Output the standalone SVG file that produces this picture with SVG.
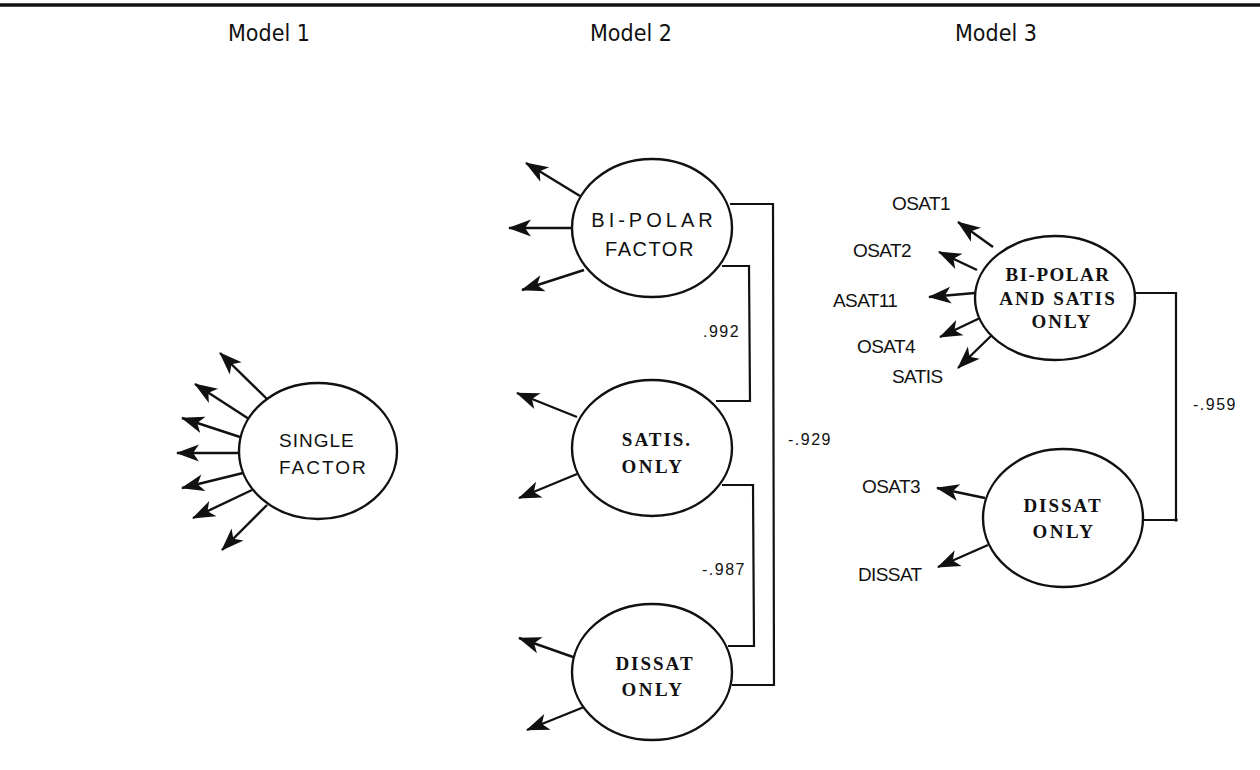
<svg xmlns="http://www.w3.org/2000/svg" width="1260" height="770" viewBox="0 0 1260 770">
<style>
.e{fill:#fff;stroke:#111;stroke-width:2.4}
.a{stroke:#111;stroke-width:2.4;fill:none;marker-end:url(#ah)}
.c{stroke:#111;stroke-width:2.2;fill:none}
.ts{font-family:"Liberation Sans",Arial,sans-serif;font-size:19px;fill:#111}
.tr{font-family:"Liberation Serif","Times New Roman",serif;font-size:19px;font-weight:bold;fill:#111}
.tl{font-family:"Liberation Sans",Arial,sans-serif;font-size:19px;fill:#111;letter-spacing:-0.6px}
.tn{font-family:"Liberation Sans",Arial,sans-serif;font-size:16px;fill:#111;letter-spacing:1.5px}
.tt{font-family:"DejaVu Sans Condensed","DejaVu Sans",sans-serif;font-size:23px;fill:#111}
</style>
<defs>
<marker id="ah" markerUnits="userSpaceOnUse" markerWidth="28" markerHeight="22" viewBox="-25 -11 27 22" refX="0" refY="0" orient="auto">
<path d="M1,0 L-22,-8.5 L-16,0 L-22,8.5 Z" fill="#111"/>
</marker>
</defs>
<rect width="1260" height="770" fill="#fff"/>
<line x1="0" y1="5" x2="1260" y2="5" stroke="#111" stroke-width="3.5"/>
<g id="titles">
<text class="tt" x="228" y="41">Model  1</text>
<text class="tt" x="590" y="41">Model  2</text>
<text class="tt" x="955" y="41">Model  3</text>
</g>
<g id="connectors">
<line class="a" x1="267" y1="399" x2="220" y2="353"/>
<line class="a" x1="249" y1="419" x2="195" y2="384"/>
<line class="a" x1="240" y1="437" x2="182" y2="418"/>
<line class="a" x1="239" y1="453" x2="177" y2="453"/>
<line class="a" x1="243" y1="473" x2="182" y2="488"/>
<line class="a" x1="252" y1="490" x2="193" y2="518"/>
<line class="a" x1="267" y1="505" x2="222" y2="550"/>
<line class="a" x1="580" y1="196" x2="526" y2="163"/>
<line class="a" x1="572" y1="228" x2="509" y2="228"/>
<line class="a" x1="584" y1="270" x2="522" y2="290"/>
<line class="a" x1="577" y1="417" x2="517" y2="393"/>
<line class="a" x1="577" y1="474" x2="519" y2="498"/>
<line class="a" x1="573" y1="657" x2="519" y2="638"/>
<line class="a" x1="584" y1="707" x2="527" y2="730"/>
<polyline class="c" points="730,204 773,204 774,685 732,685"/>
<polyline class="c" points="722,266 749,266 750,401 716,401"/>
<polyline class="c" points="722,485 753,485 754,646 728,646"/>
<line class="a" x1="993" y1="247" x2="958" y2="222"/>
<line class="a" x1="977" y1="270" x2="939" y2="252"/>
<line class="a" x1="975" y1="293" x2="929" y2="297"/>
<line class="a" x1="980" y1="318" x2="940" y2="337"/>
<line class="a" x1="992" y1="335" x2="958" y2="368"/>
<line class="a" x1="985" y1="498" x2="937" y2="488"/>
<line class="a" x1="988" y1="545" x2="938" y2="567"/>
<polyline class="c" points="1135,293 1176,293 1176,520 1143,520"/>
<circle cx="1176" cy="520" r="1.8" fill="#111"/>
</g>
<g id="labels">
<text class="tn" x="703" y="337">.992</text>
<text class="tn" x="702" y="575">-.987</text>
<text class="tn" x="788" y="445">-.929</text>
<text class="tn" x="1193" y="410">-.959</text>
<text class="tl" x="892" y="210">OSAT1</text>
<text class="tl" x="853" y="257">OSAT2</text>
<text class="tl" x="833" y="307">ASAT11</text>
<text class="tl" x="857" y="353">OSAT4</text>
<text class="tl" x="892" y="383">SATIS</text>
<text class="tl" x="862" y="493">OSAT3</text>
<text class="tl" x="858" y="581">DISSAT</text>
</g>
<g id="n-single">
<ellipse class="e" cx="318" cy="451" rx="79" ry="68"/>
<text class="ts" x="279" y="447" style="letter-spacing:1px">SINGLE</text>
<text class="ts" x="279" y="474" style="letter-spacing:2px">FACTOR</text>
</g>
<g id="n-bipolar">
<ellipse class="e" cx="652" cy="228" rx="80" ry="69"/>
<text class="ts" x="654" y="227" text-anchor="middle" style="letter-spacing:4px;font-size:20px">BI-POLAR</text>
<text class="ts" x="650" y="256" text-anchor="middle" style="letter-spacing:1.5px;font-size:20px">FACTOR</text>
</g>
<g id="n-satis">
<ellipse class="e" cx="652" cy="448" rx="80" ry="68"/>
<text class="tr" x="657" y="446" text-anchor="middle" style="letter-spacing:2px">SATIS.</text>
<text class="tr" x="653" y="473" text-anchor="middle" style="letter-spacing:2.5px">ONLY</text>
</g>
<g id="n-dissat">
<ellipse class="e" cx="652" cy="672" rx="80" ry="68"/>
<text class="tr" x="655" y="670" text-anchor="middle" style="letter-spacing:2px">DISSAT</text>
<text class="tr" x="653" y="696" text-anchor="middle" style="letter-spacing:2.5px">ONLY</text>
</g>
<g id="n-bipolar-satis">
<ellipse class="e" cx="1055" cy="298" rx="80" ry="62"/>
<text class="tr" x="1058" y="281" text-anchor="middle" style="letter-spacing:1.5px">BI-POLAR</text>
<text class="tr" x="1058" y="305" text-anchor="middle" style="letter-spacing:2px">AND SATIS</text>
<text class="tr" x="1062" y="328" text-anchor="middle" style="letter-spacing:2px">ONLY</text>
</g>
<g id="n-dissat3">
<ellipse class="e" cx="1063" cy="518" rx="80" ry="69"/>
<text class="tr" x="1063" y="512" text-anchor="middle" style="letter-spacing:2px">DISSAT</text>
<text class="tr" x="1064" y="538" text-anchor="middle" style="letter-spacing:2.5px">ONLY</text>
</g>
</svg>
